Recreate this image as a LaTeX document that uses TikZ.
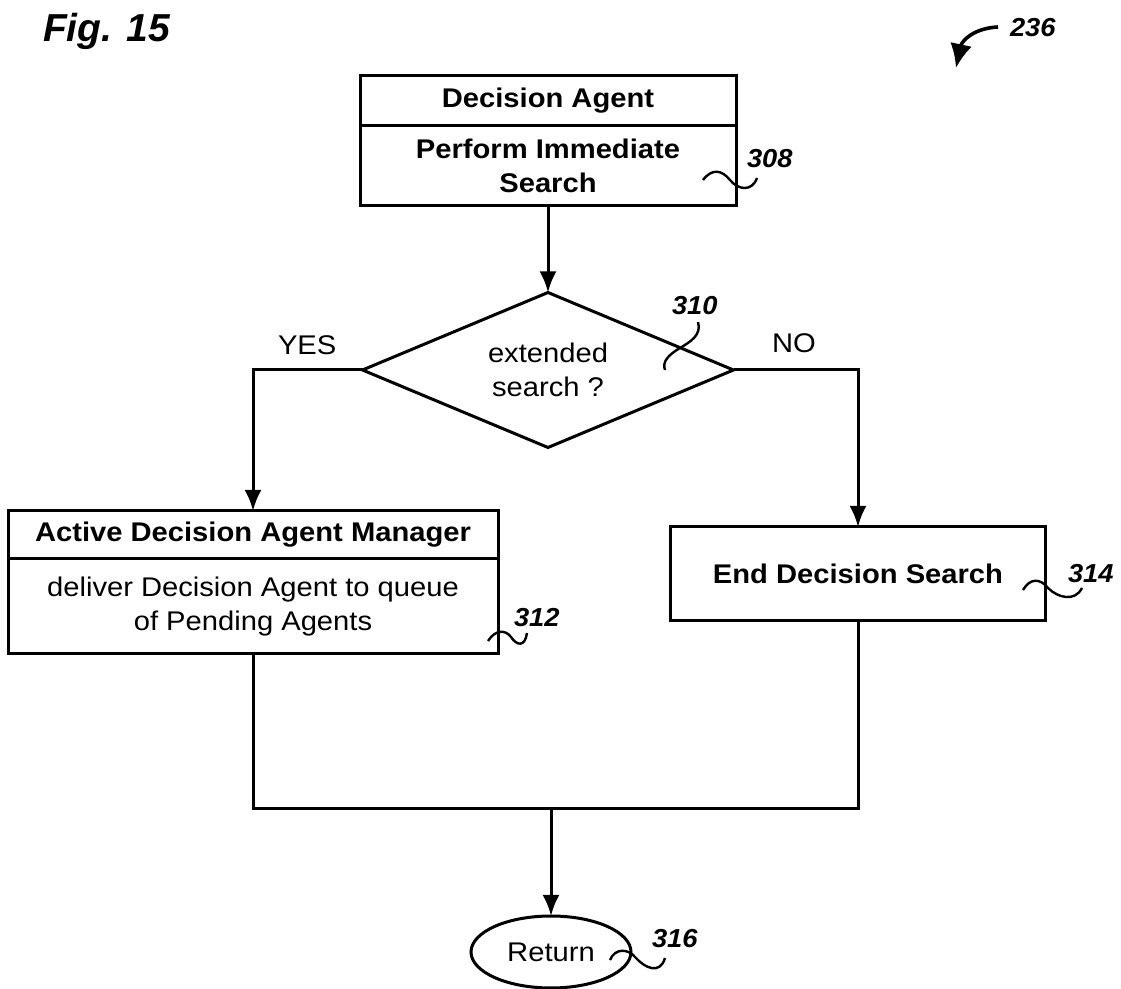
\documentclass[tikz,border=0pt]{standalone}
\usepackage{fontspec}
\setmainfont{Liberation Sans}[FakeStretch=1.08]
\newfontfamily\figfont{Liberation Sans}
\newfontfamily\numfont{Liberation Sans}[FakeStretch=1.05]
\usetikzlibrary{shapes.geometric,arrows.meta}
\begin{document}
\begin{tikzpicture}[x=0.5pt,y=-0.5pt,
  every node/.style={inner sep=0pt, outer sep=0pt},
  txt/.style={font=\fontsize{13.5pt}{17pt}\selectfont, align=center},
  boldtxt/.style={font=\fontsize{13.5pt}{17pt}\selectfont\bfseries, align=center},
  conn/.style={line width=1.5pt},
  box/.style={draw, conn, rectangle, align=center},
  ref/.style={font=\numfont\fontsize{13pt}{15pt}\selectfont\bfseries\itshape, anchor=base west},
  lbl/.style={font=\fontsize{13.5pt}{15pt}\selectfont, anchor=base west},
  arr/.style={conn, -{Latex[length=10.5pt,width=8.5pt]}},
  lead/.style={line width=1.2pt},
]
\path[use as bounding box] (0,0) rectangle (1121,989);

% title and figure reference
\node[font=\figfont\fontsize{19.5pt}{22pt}\selectfont\bfseries\itshape, anchor=base west] (fig) at (43,42) {Fig. 15};
\node[ref] (r236) at (1010,37) {236};
\draw[line width=1.8pt, -{Latex[length=12pt,width=11pt]}] (998,27) .. controls (975,28) and (962,40) .. (956,68);

% decision agent box
\node[box, boldtxt, minimum width=188pt, minimum height=25pt] (dahead) at (548,101) {Decision Agent};
\node[box, boldtxt, minimum width=188pt, minimum height=40pt] (dabody) at (548,166) {Perform Immediate\\Search};
\node[ref] (r308) at (747,168) {308};
\draw[lead] (703,180) .. controls (712,168) and (722,170) .. (730,180) .. controls (738,190) and (752,192) .. (757,178);

% decision diamond
\node[draw, conn, diamond, txt, aspect=2.39, minimum width=185.5pt, minimum height=77.5pt] (dec) at (548,370) {extended\\search ?};
\node[ref] (r310) at (672,315) {310};
\draw[lead] (698,322) .. controls (702,335) and (690,342) .. (680,348) .. controls (668,355) and (662,362) .. (665,370);
\node[lbl] (yes) at (278,355) {YES};
\node[lbl] (no) at (772,353) {NO};

% left box
\node[box, boldtxt, minimum width=245pt, minimum height=24pt] (adhead) at (253,535) {Active Decision Agent Manager};
\node[box, txt, minimum width=245pt, minimum height=47.5pt] (adbody) at (253,606.5) {deliver Decision Agent to queue\\of Pending Agents};
\node[ref] (r312) at (514,627) {312};
\draw[lead] (488,641) .. controls (495,630) and (505,629) .. (511,637) .. controls (517,646) and (525,647) .. (527,633);

% right box
\node[box, boldtxt, minimum width=187.5pt, minimum height=47pt] (endbox) at (858,574) {End Decision Search};
\node[ref] (r314) at (1068,583) {314};
\draw[lead] (1023,590) .. controls (1030,578) and (1040,578) .. (1048,588) .. controls (1058,598) and (1075,602) .. (1082,588);

% return
\node[draw, conn, ellipse, txt, minimum width=80pt, minimum height=36pt] (ret) at (551,952) {Return};
\node[ref] (r316) at (652,948) {316};
\draw[lead] (610,960) .. controls (615,948) and (628,948) .. (636,958) .. controls (645,968) and (660,975) .. (665,958);

% connectors
\coordinate (j) at (551,809);
\draw[arr] (dabody.south) -- (dec.north);
\draw[arr] (dec.west) -| (adhead.north);
\draw[arr] (dec.east) -| (endbox.north);
\draw[conn] (adbody.south) |- (j) -| (endbox.south);
\draw[arr] (j) -- (ret.north);
\end{tikzpicture}
\end{document}
